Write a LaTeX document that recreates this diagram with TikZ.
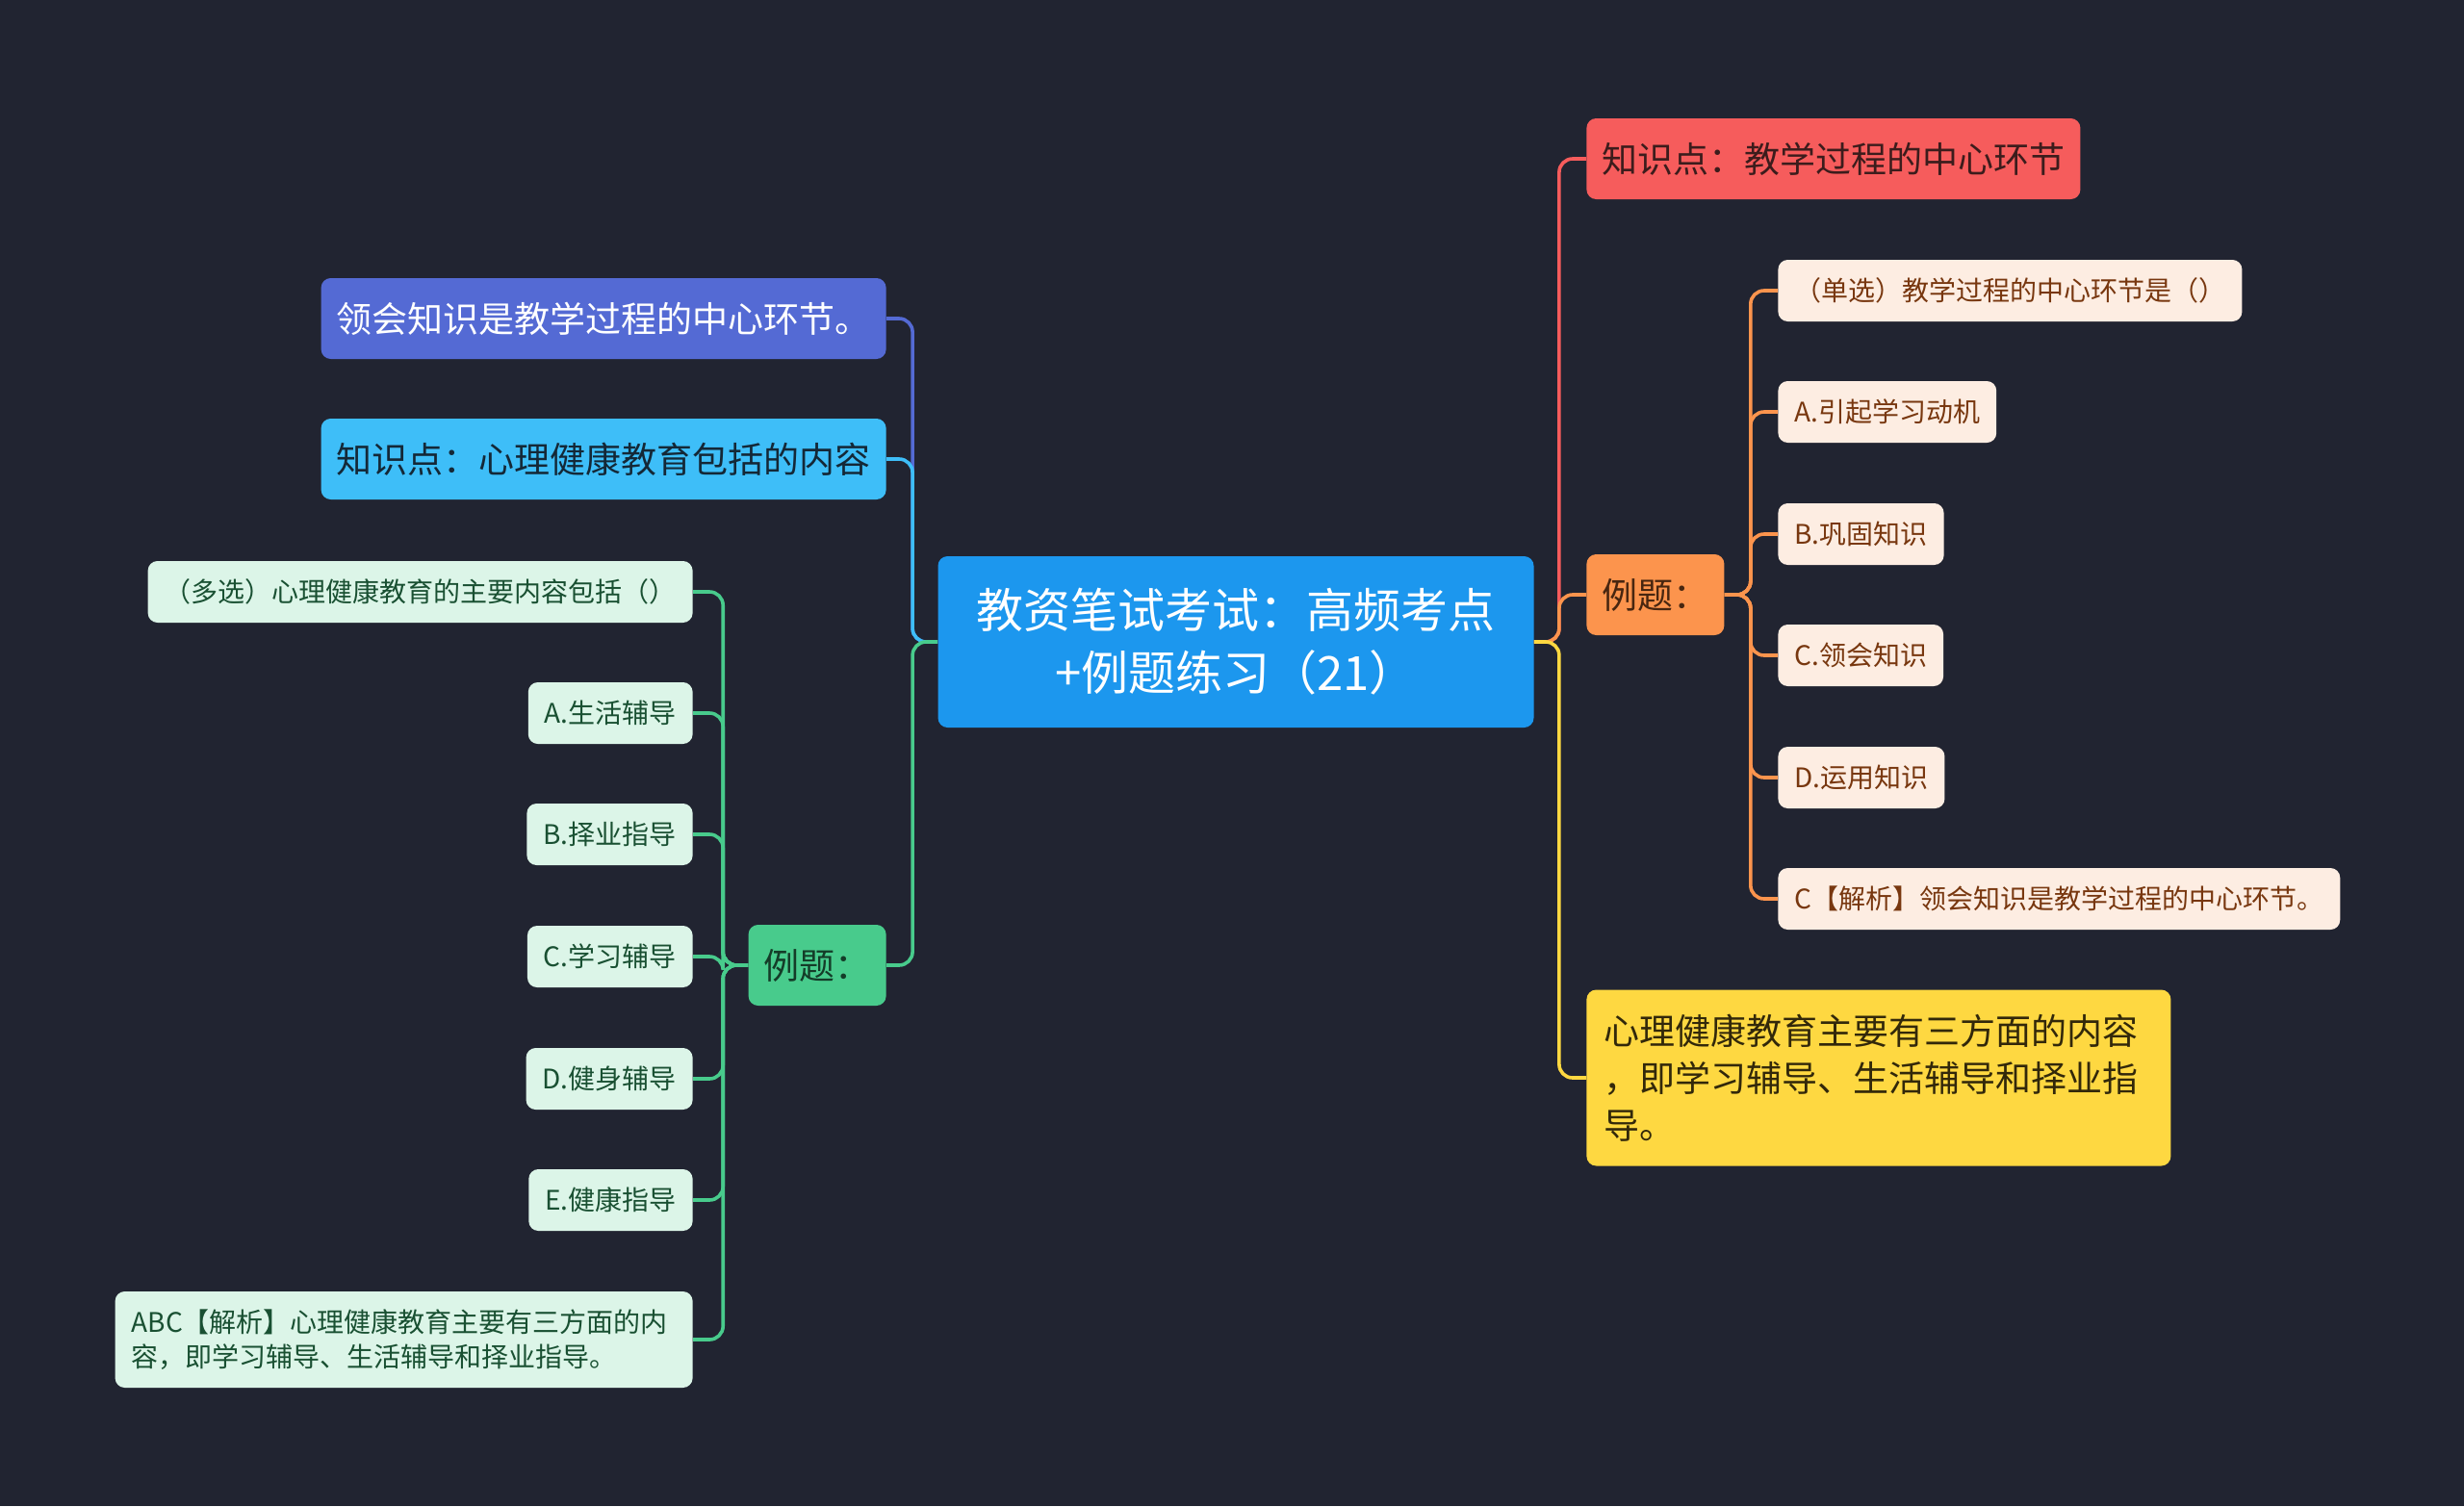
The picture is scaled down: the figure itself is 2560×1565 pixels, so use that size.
\documentclass[tikz,border=0pt]{standalone}
\usepackage{fontspec}
\setmainfont{Noto Sans CJK SC}
\usepackage{tikz}
\usetikzlibrary{positioning}
\definecolor{bgdark}{RGB}{33,36,49}
\definecolor{rootblue}{RGB}{28,151,238}
\definecolor{kred}{RGB}{246,92,92}
\definecolor{korange}{RGB}{252,148,77}
\definecolor{kpeach}{RGB}{253,237,226}
\definecolor{kyellow}{RGB}{254,216,65}
\definecolor{kpurple}{RGB}{84,106,212}
\definecolor{kblue}{RGB}{62,190,248}
\definecolor{kgreen}{RGB}{72,203,140}
\definecolor{kmint}{RGB}{220,245,232}
\newcommand{\ksmall}{\fontsize{14pt}{18pt}\selectfont}
\newcommand{\kmid}{\fontsize{18.5pt}{24.5pt}\selectfont}
\newcommand{\kbig}{\fontsize{24.5pt}{32.5pt}\selectfont}

\begin{document}
\begin{tikzpicture}[x=0.5pt, y=-0.5pt,
    box/.style={rounded corners=5pt, inner ysep=0pt},
    midbox/.style={box, font=\kmid, inner xsep=8pt, minimum height=42pt},
    smallbox/.style={box, font=\ksmall, inner xsep=8.5pt, minimum height=32pt},
    conn/.style={line width=1.8pt, rounded corners=7pt}]
    
    % 背景
    \fill[bgdark] (0,0) rectangle (2560,1565);
    \useasboundingbox (0,0) rectangle (2560,1565);
    
    % 中心主题
    \node[box, fill=rootblue, text=white, font=\kbig, align=center,
          minimum width=309.5pt, minimum height=89pt] (root) at (1284,667)
          {教资笔试考试：高频考点\\+例题练习（21）};
    
    % 右侧分支
    \node[midbox, fill=kred, text={rgb,255:red,60;green,28;blue,28}, anchor=west] (kp1) at (1648,165)
          {知识点：教学过程的中心环节};
    \node[midbox, fill=korange, text={rgb,255:red,72;green,38;blue,16}, anchor=west] (ex1) at (1648,618)
          {例题：};
    \node[box, fill=kyellow, text={rgb,255:red,50;green,40;blue,10}, font=\kmid, anchor=west,
          align=left, inner xsep=9pt, text width=285.5pt, minimum height=91.5pt] (sum1) at (1648,1120)
          {心理健康教育主要有三方面的内容\\，即学习辅导、生活辅导和择业指\\导。};
    
    \node[smallbox, fill=kpeach, text={rgb,255:red,120;green,55;blue,15}, anchor=west] (q1) at (1847,302)
          {（单选）教学过程的中心环节是（）};
    \node[smallbox, fill=kpeach, text={rgb,255:red,120;green,55;blue,15}, anchor=west] (a1) at (1847,428)
          {A.引起学习动机};
    \node[smallbox, fill=kpeach, text={rgb,255:red,120;green,55;blue,15}, anchor=west] (b1) at (1847,555)
          {B.巩固知识};
    \node[smallbox, fill=kpeach, text={rgb,255:red,120;green,55;blue,15}, anchor=west] (c1) at (1847,681)
          {C.领会知识};
    \node[smallbox, fill=kpeach, text={rgb,255:red,120;green,55;blue,15}, anchor=west] (d1) at (1847,808)
          {D.运用知识};
    \node[smallbox, fill=kpeach, text={rgb,255:red,120;green,55;blue,15}, anchor=west] (s1) at (1847,934)
          {C【解析】领会知识是教学过程的中心环节。};
    
    % 左侧分支
    \node[midbox, fill=kpurple, text=white, anchor=east] (kp2) at (921,331)
          {领会知识是教学过程的中心环节。};
    \node[midbox, fill=kblue, text={rgb,255:red,20;green,40;blue,55}, anchor=east] (kp3) at (921,477)
          {知识点：心理健康教育包括的内容};
    \node[midbox, fill=kgreen, text={rgb,255:red,20;green,60;blue,40}, anchor=east] (ex2) at (921,1003)
          {例题：};
    
    \node[smallbox, fill=kmint, text={rgb,255:red,25;green,80;blue,50}, anchor=east] (q2) at (720,615)
          {（多选）心理健康教育的主要内容包括（）};
    \node[smallbox, fill=kmint, text={rgb,255:red,25;green,80;blue,50}, anchor=east] (a2) at (720,741)
          {A.生活辅导};
    \node[smallbox, fill=kmint, text={rgb,255:red,25;green,80;blue,50}, anchor=east] (b2) at (720,867)
          {B.择业指导};
    \node[smallbox, fill=kmint, text={rgb,255:red,25;green,80;blue,50}, anchor=east] (c2) at (720,994)
          {C.学习辅导};
    \node[smallbox, fill=kmint, text={rgb,255:red,25;green,80;blue,50}, anchor=east] (d2) at (720,1121)
          {D.健身辅导};
    \node[smallbox, fill=kmint, text={rgb,255:red,25;green,80;blue,50}, anchor=east] (e2) at (720,1247)
          {E.健康指导};
    \node[smallbox, fill=kmint, text={rgb,255:red,25;green,80;blue,50}, anchor=east, align=left,
          text width=283pt, minimum height=50pt] (s2) at (720,1392)
          {ABC【解析】心理健康教育主要有三方面的内\\容，即学习辅导、生活辅导和择业指导。};
    
    % 连线
    \draw[conn, kred] (root.east) -- ++(26,0) |- (kp1.west);
    \draw[conn, korange] (root.east) -- ++(26,0) |- (ex1.west);
    \draw[conn, kyellow] (root.east) -- ++(26,0) |- (sum1.west);
    \foreach \n in {q1,a1,b1,c1,d1,s1}
        \draw[conn, korange] (ex1.east) -- ++(27,0) |- (\n.west);
    
    \draw[conn, kpurple] (root.west) -- ++(-26,0) |- (kp2.east);
    \draw[conn, kblue] (root.west) -- ++(-26,0) |- (kp3.east);
    \draw[conn, kgreen] (root.west) -- ++(-26,0) |- (ex2.east);
    \foreach \n in {q2,a2,b2,c2,d2,e2,s2}
        \draw[conn, kgreen] (ex2.west) -- ++(-26,0) |- (\n.east);
\end{tikzpicture}
\end{document}
